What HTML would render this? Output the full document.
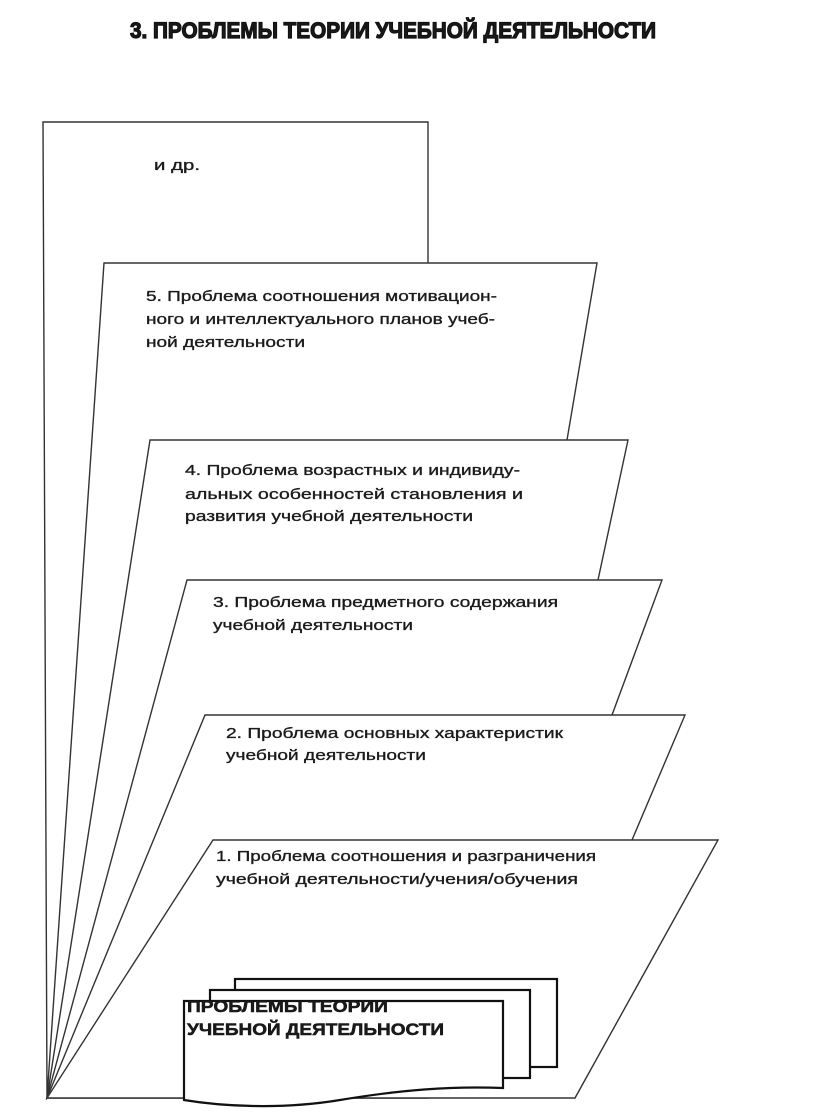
<!DOCTYPE html>
<html><head><meta charset="utf-8"><style>
html,body{margin:0;padding:0;background:#fff;}
svg{display:block;}
text{font-family:"Liberation Sans","DejaVu Sans",sans-serif;fill:#1a1a1a;}
</style></head><body>
<svg width="816" height="1114" viewBox="0 0 816 1114" xmlns="http://www.w3.org/2000/svg">
<g stroke="#333" stroke-width="1.4" fill="#fff">
<polygon points="43,122 428,122 428,1098 47,1098"/>
<polygon points="104,263 597,263 567,440 47,1098"/>
<polygon points="150,440 628,440 598,580 47,1098"/>
<polygon points="187,580 662,580 612,715 47,1098"/>
<polygon points="205,715 685,715 632,840 47,1098"/>
<polygon points="213,840 718,840 575,1098 47,1098"/>
</g>
<text x="130" y="38" font-size="22" font-weight="bold" stroke="#111" stroke-width="1.2" textLength="526" lengthAdjust="spacingAndGlyphs">3. ПРОБЛЕМЫ ТЕОРИИ УЧЕБНОЙ ДЕЯТЕЛЬНОСТИ</text>
<g font-size="15" stroke="#222" stroke-width="0.35">
<text x="154" y="170" textLength="46" lengthAdjust="spacingAndGlyphs">и др.</text>
<text x="146" y="301" textLength="351" lengthAdjust="spacingAndGlyphs">5. Проблема соотношения мотивацион-</text>
<text x="146" y="324" textLength="349" lengthAdjust="spacingAndGlyphs">ного и интеллектуального планов учеб-</text>
<text x="146" y="347" textLength="159" lengthAdjust="spacingAndGlyphs">ной деятельности</text>
<text x="185" y="475" textLength="335" lengthAdjust="spacingAndGlyphs">4. Проблема возрастных и индивиду-</text>
<text x="185" y="499" textLength="338" lengthAdjust="spacingAndGlyphs">альных особенностей становления и</text>
<text x="185" y="521" textLength="288" lengthAdjust="spacingAndGlyphs">развития учебной деятельности</text>
<text x="213" y="607" textLength="345" lengthAdjust="spacingAndGlyphs">3. Проблема предметного содержания</text>
<text x="213" y="630" textLength="200" lengthAdjust="spacingAndGlyphs">учебной деятельности</text>
<text x="226" y="738" textLength="337" lengthAdjust="spacingAndGlyphs">2. Проблема основных характеристик</text>
<text x="226" y="760" textLength="200" lengthAdjust="spacingAndGlyphs">учебной деятельности</text>
<text x="216" y="861" textLength="380" lengthAdjust="spacingAndGlyphs">1. Проблема соотношения и разграничения</text>
<text x="216" y="884" textLength="362" lengthAdjust="spacingAndGlyphs">учебной деятельности/учения/обучения</text>
</g>
<g stroke="#111" stroke-width="2.2" fill="#fff">
<rect x="235" y="979" width="322" height="88"/>
<rect x="210" y="990" width="320" height="88"/>
<path d="M184,1001 L503,1001 L503,1088 C450,1086 400,1090 340,1100 C280,1110 220,1106 184,1100 Z"/>
</g>
<g font-size="17" font-weight="bold" stroke="#111" stroke-width="0.5">
<text x="187" y="1012" textLength="201" lengthAdjust="spacingAndGlyphs">ПРОБЛЕМЫ ТЕОРИИ</text>
<text x="187" y="1035" textLength="257" lengthAdjust="spacingAndGlyphs">УЧЕБНОЙ ДЕЯТЕЛЬНОСТИ</text>
</g>
</svg>
</body></html>
